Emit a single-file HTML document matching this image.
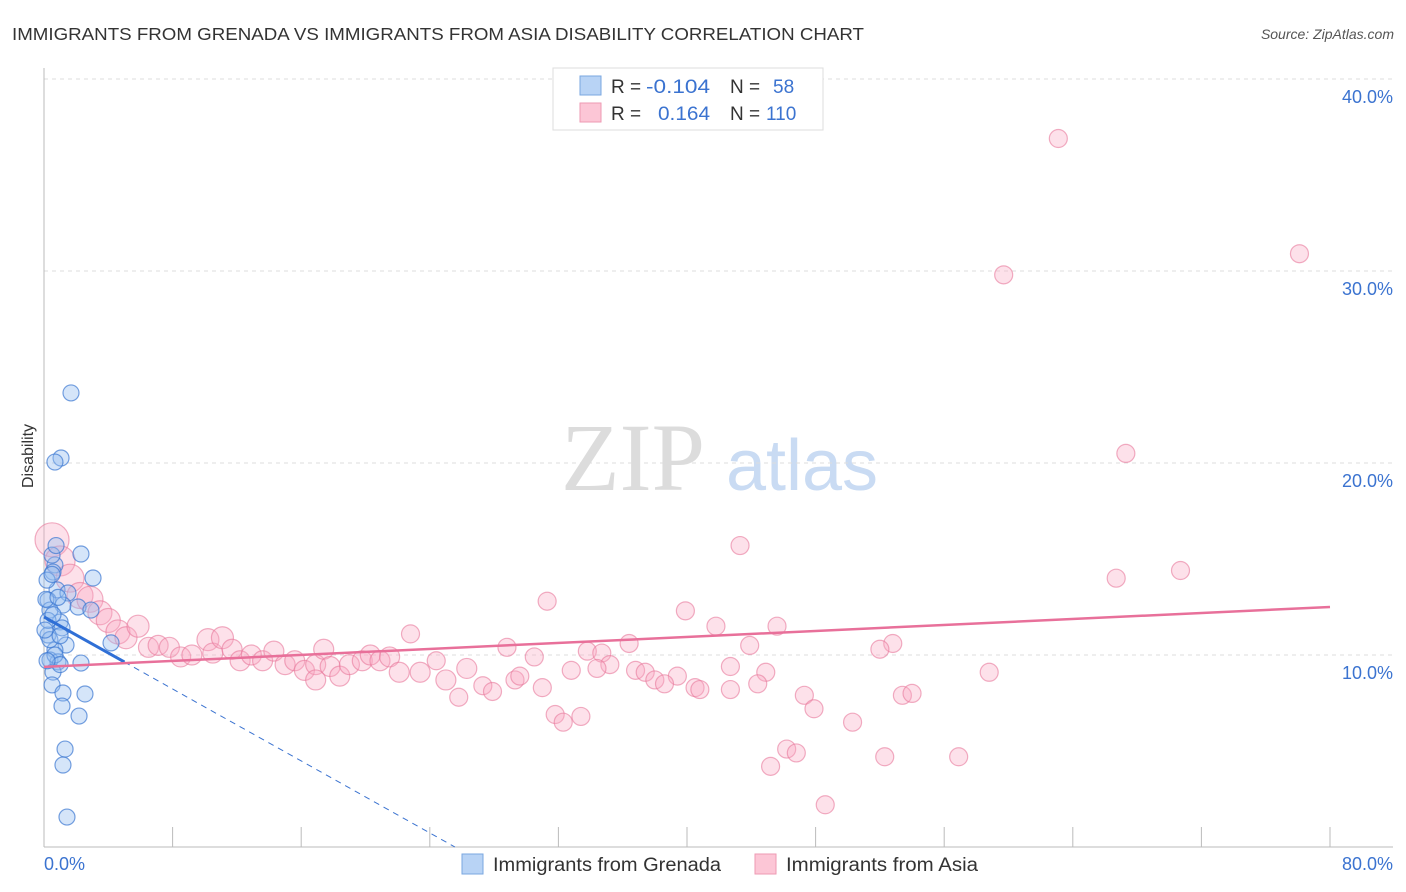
<!DOCTYPE html>
<html><head><meta charset="utf-8"><style>
body{margin:0;background:#fff;width:1406px;height:892px;overflow:hidden;font-family:"Liberation Sans",sans-serif}
svg{display:block}
</style></head><body>
<svg id="chart" width="1406" height="892" xmlns="http://www.w3.org/2000/svg">
<text x="12" y="40" font-size="17.5" fill="#333" font-family="Liberation Sans, sans-serif" textLength="852" lengthAdjust="spacingAndGlyphs">IMMIGRANTS FROM GRENADA VS IMMIGRANTS FROM ASIA DISABILITY CORRELATION CHART</text>
<text x="1394" y="39" font-size="14" fill="#555" font-style="italic" text-anchor="end">Source: ZipAtlas.com</text>
<g>
<text x="633" y="490" font-size="96" fill="#dcdcdc" font-family="Liberation Serif, serif" text-anchor="middle">ZIP</text>
<text x="802" y="490" font-size="72" fill="#c9dbf3" text-anchor="middle">atlas</text>
</g>
<g id="grid"></g>
<g id="axes"></g>
<text transform="translate(33,456) rotate(-90)" font-size="16" fill="#333" text-anchor="middle">Disability</text>
<g id="pts"></g>
<g id="trends"></g>
<g>
<rect x="553" y="68" width="270" height="62" fill="#fff" stroke="#ddd"/>
<rect x="580" y="76" width="21" height="19" fill="#b8d3f5" stroke="#7aa7e0"/>
<rect x="580" y="103" width="21" height="19" fill="#fcc6d6" stroke="#ee9ab3"/>
<text x="611" y="93" font-size="19" fill="#333">R = <tspan fill="#3b73d0" x="646" textLength="64" lengthAdjust="spacingAndGlyphs">-0.104</tspan></text>
<text x="730" y="93" font-size="19" fill="#333">N = <tspan fill="#3b73d0" x="773">58</tspan></text>
<text x="611" y="120" font-size="19" fill="#333">R = <tspan fill="#3b73d0" x="658" textLength="52" lengthAdjust="spacingAndGlyphs">0.164</tspan></text>
<text x="730" y="120" font-size="19" fill="#333">N = <tspan fill="#3b73d0" x="766">110</tspan></text>
</g>
<g>
<rect x="462" y="854" width="21" height="20" fill="#b8d3f5" stroke="#7aa7e0"/>
<text x="493" y="871" font-size="19" fill="#333" textLength="228" lengthAdjust="spacingAndGlyphs">Immigrants from Grenada</text>
<rect x="755" y="854" width="21" height="20" fill="#fcc6d6" stroke="#ee9ab3"/>
<text x="786" y="871" font-size="19" fill="#333" textLength="192" lengthAdjust="spacingAndGlyphs">Immigrants from Asia</text>
</g>
</svg>
<script>
const blueX=[1.68,1.06,0.68,2.30,3.05,0.68,0.56,0.81,1.49,0.25,1.18,0.37,2.12,2.92,1.0,1.12,0.25,1.37,4.17,0.68,0.37,0.87,2.30,0.56,0.5,1.18,2.55,1.12,2.18,1.31,1.18,1.43,0.19,0.5,0.75,0.25,0.37,0.68,1.0,0.12,0.87,0.56,0.19,1.0,0.06,0.5];
const blueY=[23.65,20.26,20.05,15.26,14.01,14.69,14.32,13.39,13.23,12.86,12.6,12.34,12.5,12.34,11.72,11.41,11.04,10.52,10.63,10.26,9.74,9.64,9.58,9.11,8.44,8.02,7.97,7.34,6.82,5.1,4.27,1.56,13.9,15.2,15.7,11.8,10.8,10.0,9.5,12.9,13.0,12.1,9.7,11.0,11.3,14.2];
const pinkX=[63.1,78.1,59.7,67.3,43.3,66.7,70.7,31.3,39.9,41.8,45.6,22.8,36.4,43.9,52.8,52.0,28.8,33.8,34.7,30.5,24.4,42.7,35.2,32.8,34.4,36.8,37.4,44.9,58.8,39.4,38.0,38.6,27.3,29.3,29.6,27.9,31.0,40.5,40.8,42.7,44.4,47.3,47.9,50.3,53.4,54.0,25.8,31.8,32.3,33.4,46.2,46.8,45.2,52.3,56.9,48.6,0.5,1.0,1.62,2.24,2.86,3.48,4.0,4.6,5.1,5.85,6.5,7.1,7.8,8.5,9.2,10.2,10.5,11.1,11.7,12.2,12.9,13.6,14.3,15.0,15.6,16.2,16.9,17.4,17.8,18.4,19.0,19.8,20.3,20.9,21.5,22.1,23.4,25.0,26.3,16.9];
const pinkY=[36.9,30.9,29.8,20.5,15.7,14.0,14.4,12.8,12.3,11.5,11.5,11.1,10.6,10.5,10.6,10.3,10.4,10.2,10.1,9.9,9.7,9.4,9.5,9.2,9.3,9.2,9.1,9.1,9.1,8.9,8.7,8.5,8.4,8.7,8.9,8.1,8.3,8.3,8.2,8.2,8.5,7.9,7.2,6.5,7.9,8.0,7.8,6.9,6.5,6.8,5.1,4.9,4.2,4.7,4.7,2.2,16.0,14.9,14.0,13.1,12.9,12.2,11.8,11.2,10.9,11.5,10.4,10.5,10.4,9.9,10.0,10.8,10.1,10.9,10.3,9.7,10.0,9.7,10.2,9.5,9.7,9.2,9.5,10.3,9.4,8.9,9.5,9.7,10.0,9.7,9.9,9.1,9.1,8.7,9.3,8.7];
const pinkSize=[9,9,9,9,9,9,9,9,9,9,9,9,9,9,9,9,9,9,9,9,9,9,9,9,9,9,9,9,9,9,9,9,9,9,9,9,9,9,9,9,9,9,9,9,9,9,9,9,9,9,9,9,9,9,9,9,17,15,14,13,13,12,12,12,11,11,10,10,10,10,10,11,10,11,10,10,10,10,10,10,10,10,10,10,10,10,10,10,10,10,10,10,10,10,10,10];
const yTicks=[10,20,30,40];
const yTickLabels=["10.0%","20.0%","30.0%","40.0%"];
const xTicks=[0,8,16,24,32,40,48,56,64,72,80];
const blueTrend=[11.98,-0.4686]; const pinkTrend=[9.38,0.039];
const X=v=>44+v*1286/80, Y=v=>847-v*19.2;
const NS="http://www.w3.org/2000/svg";
function mk(p,t,a){const e=document.createElementNS(NS,t);for(const k in a)e.setAttribute(k,a[k]);p.appendChild(e);return e;}
const grid=document.getElementById('grid'),axes=document.getElementById('axes'),pts=document.getElementById('pts'),tr=document.getElementById('trends');
yTicks.forEach((t,i)=>{
const l=mk(grid,'line',{x1:44,x2:1393,y1:Y(t),y2:Y(t),stroke:'#ddd','stroke-dasharray':'4,4'});


const tx=mk(axes,'text',{x:1393,y:Y(t)+24,'font-size':18,fill:'#3b73d0','text-anchor':'end'});tx.textContent=yTickLabels[i];


});
mk(axes,'line',{x1:44,x2:44,y1:68,y2:847,stroke:'#bbb'});
mk(axes,'line',{x1:44,x2:1393,y1:847,y2:847,stroke:'#bbb'});
xTicks.forEach(t=>{const l=mk(axes,'line',{x1:X(t),x2:X(t),y1:827,y2:847,stroke:'#bbb'});

});
let a=mk(axes,'text',{x:44,y:870,'font-size':18,fill:'#3b73d0'});a.textContent='0.0%';


a=mk(axes,'text',{x:1393,y:870,'font-size':18,fill:'#3b73d0','text-anchor':'end'});a.textContent='80.0%';


pinkX.forEach((x,i)=>{const c=mk(pts,'circle',{cx:X(x),cy:Y(pinkY[i]),r:pinkSize[i],fill:'rgba(248,170,195,0.35)',stroke:'rgba(232,120,155,0.6)','stroke-width':1.2});

});
blueX.forEach((x,i)=>{const c=mk(pts,'circle',{cx:X(x),cy:Y(blueY[i]),r:8,fill:'rgba(150,190,240,0.4)',stroke:'rgba(60,120,210,0.7)','stroke-width':1.2});

});
const bx0=-blueTrend[0]/blueTrend[1];
let l=mk(tr,'line',{x1:X(5),y1:Y(blueTrend[0]+blueTrend[1]*5),x2:X(bx0),y2:Y(0),stroke:'#3b73d0','stroke-width':1,'stroke-dasharray':'6,5'});


l=mk(tr,'line',{x1:X(0),y1:Y(blueTrend[0]),x2:X(5),y2:Y(blueTrend[0]+blueTrend[1]*5),stroke:'#2f6fd6','stroke-width':3});


l=mk(tr,'line',{x1:X(0),y1:Y(pinkTrend[0]),x2:X(80),y2:Y(pinkTrend[0]+pinkTrend[1]*80),stroke:'#e8709a','stroke-width':2.5});


</script>
</body></html>
